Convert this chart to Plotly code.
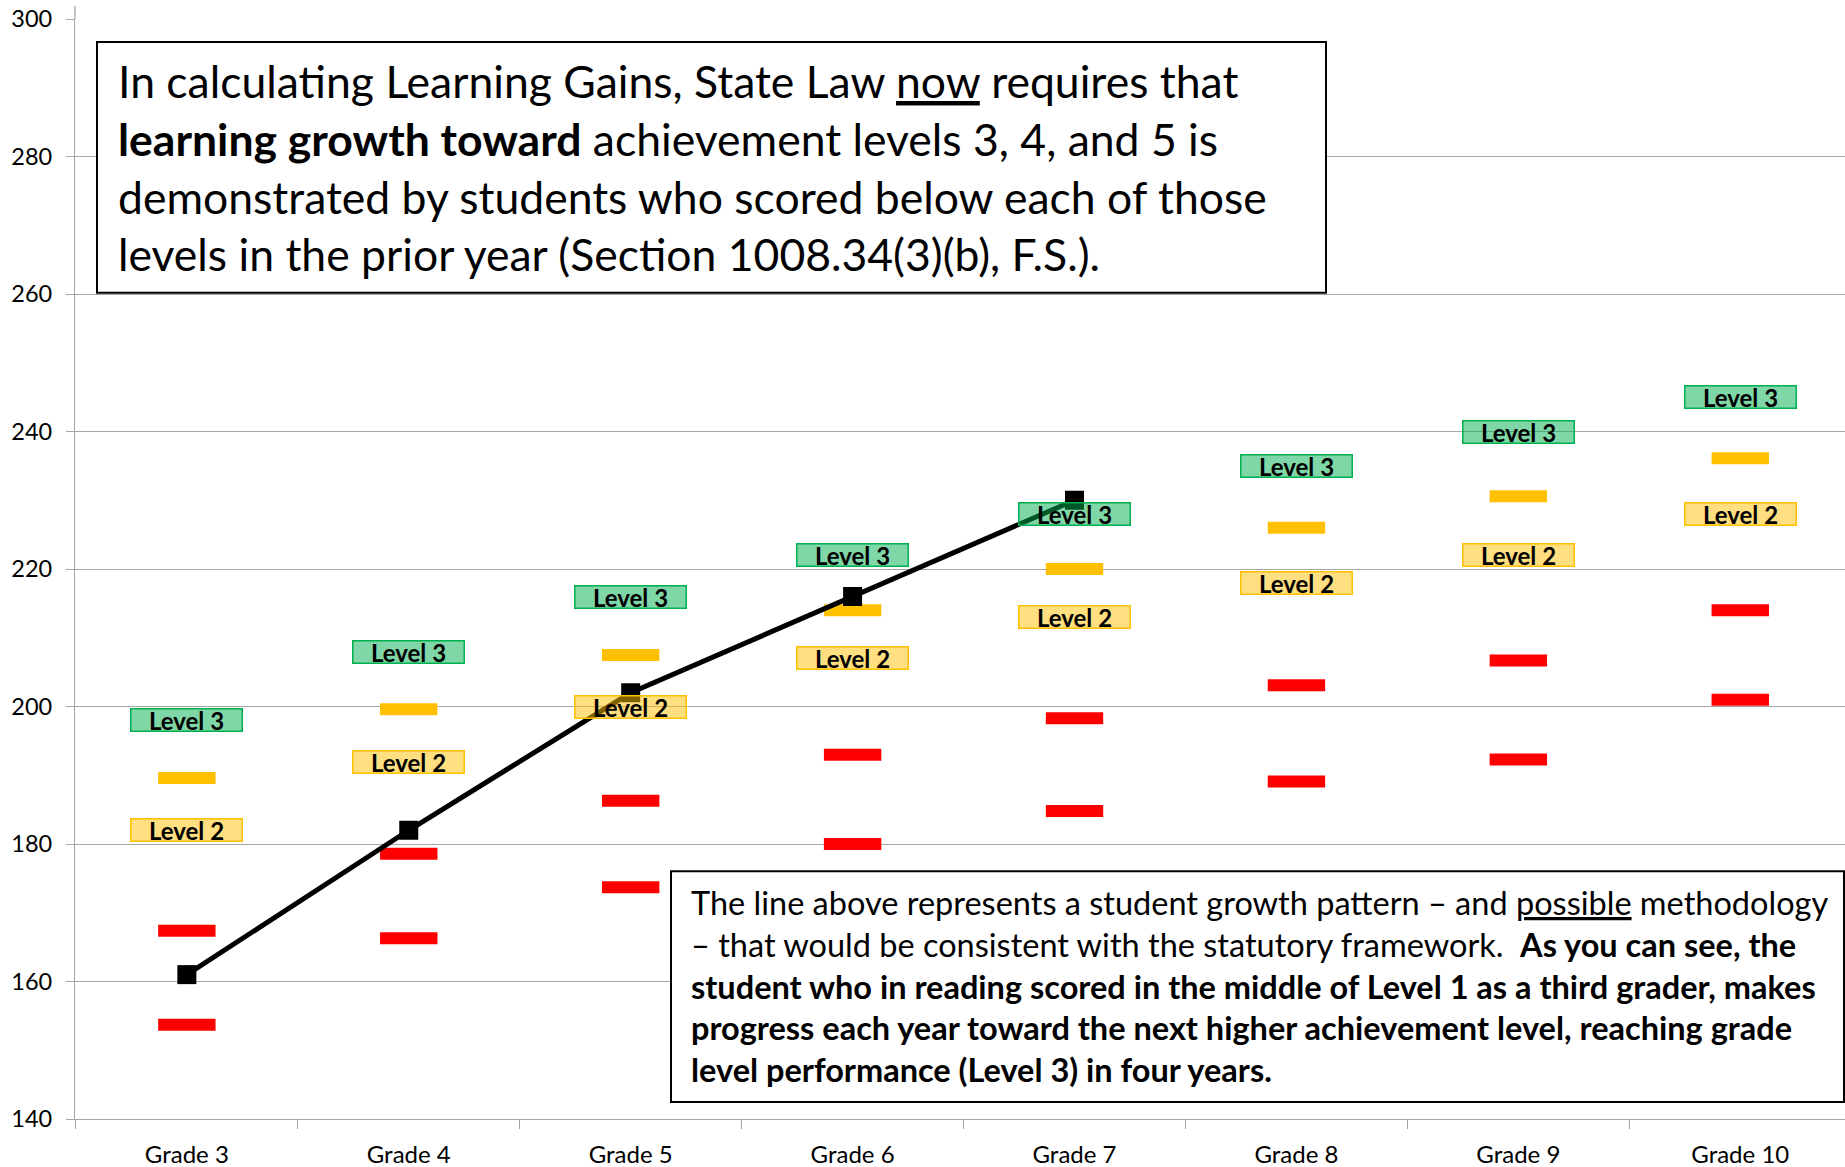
import plotly.graph_objects as go

# ---------------- data ----------------
grades = ["Grade 3", "Grade 4", "Grade 5", "Grade 6", "Grade 7", "Grade 8", "Grade 9", "Grade 10"]
level3_cut = [198, 208, 216, 222, 228, 235, 240, 245]
level2_upper = [189.6, 199.6, 207.5, 214, 220, 226, 230.6, 236.1]
level2_cut = [182, 192, 200, 207, 213, 218, 222, 228]
level1_upper = [167.4, 178.6, 186.3, 193, 198.3, 203.1, 206.7, 214]
level1_lower = [153.7, 166.3, 173.7, 180, 184.8, 189.1, 192.3, 201]
student_grades = ["Grade 3", "Grade 4", "Grade 5", "Grade 6", "Grade 7"]
student_scores = [161, 182, 202, 216, 230]
y_ticks = [140, 160, 180, 200, 220, 240, 260, 280, 300]

FONT = "Lato"
GRID = "#A6A6A6"

fig = go.Figure()

def dash_trace(vals, color):
    return go.Scatter(
        x=grades, y=vals, mode="markers", showlegend=False, hoverinfo="skip",
        marker=dict(symbol="line-ew", size=41, color=color,
                    line=dict(color=color, width=12)),
    )

fig.add_trace(dash_trace(level2_upper, "#FFC000"))
fig.add_trace(dash_trace(level1_upper, "#FF0000"))
fig.add_trace(dash_trace(level1_lower, "#FF0000"))

fig.add_trace(go.Scatter(
    x=student_grades, y=student_scores, mode="lines+markers", showlegend=False,
    line=dict(color="black", width=5),
    marker=dict(symbol="square", size=19, color="black", line=dict(width=0)),
))

annotations = []
for g, v in zip(grades, level3_cut):
    annotations.append(dict(
        x=g, y=v, xref="x", yref="y", text="<b>Level 3</b>", showarrow=False,
        font=dict(family=FONT, size=24, color="black"),
        bgcolor="rgba(0,176,80,0.5)", bordercolor="#00B050", borderwidth=1.5,
        borderpad=0, width=110, height=21, xanchor="center", yanchor="middle",
    ))
for g, v in zip(grades, level2_cut):
    annotations.append(dict(
        x=g, y=v, xref="x", yref="y", text="<b>Level 2</b>", showarrow=False,
        font=dict(family=FONT, size=24, color="black"),
        bgcolor="rgba(255,192,0,0.5)", bordercolor="#FFC000", borderwidth=1.5,
        borderpad=0, width=110, height=21, xanchor="center", yanchor="middle",
    ))

# pixel -> paper helpers (plot area: x 75..1845, y 19..1120)
PX0, PW = 75, 1770
PY1, PH = 1120, 1101

def px(x):
    return (x - PX0) / PW

def py(y):
    return (PY1 - y) / PH

shapes = [
    dict(type="rect", xref="paper", yref="paper", x0=px(97), x1=px(1326), y0=py(293), y1=py(42),
         fillcolor="white", line=dict(color="black", width=2), layer="above"),
    dict(type="rect", xref="paper", yref="paper", x0=px(671), x1=px(1844), y0=py(1103), y1=py(872),
         fillcolor="white", line=dict(color="black", width=2), layer="above"),
    dict(type="line", xref="paper", yref="paper", x0=0, x1=0, y0=1, y1=py(6),
         line=dict(color=GRID, width=1.3), layer="below"),
]

top_lines = [
    "In calculating Learning Gains, State Law <u>now</u> requires that",
    "<b>learning growth toward</b> achievement levels 3, 4, and 5 is",
    "demonstrated by students who scored below each of those",
    "levels in the prior year (Section 1008.34(3)(b), F.S.).",
]
top_y = [81, 139, 196.5, 254]
for t, yy in zip(top_lines, top_y):
    annotations.append(dict(
        x=px(116), y=py(yy), xref="paper", yref="paper", text=t, showarrow=False,
        xanchor="left", yanchor="middle", font=dict(family=FONT, size=44.5, color="black"),
    ))

bottom_lines = [
    "The line above represents a student growth pattern – and <u>possible</u> methodology",
    "– that would be consistent with the statutory framework.&nbsp; <b>As you can see, the</b>",
    "<b>student who in reading scored in the middle of Level 1 as a third grader, makes</b>",
    "<b>progress each year toward the next higher achievement level, reaching grade</b>",
    "<b>level performance (Level 3) in four years.</b>",
]
bottom_y = [903.5, 945, 987, 1028.5, 1070]
for t, yy in zip(bottom_lines, bottom_y):
    annotations.append(dict(
        x=px(689), y=py(yy), xref="paper", yref="paper", text=t, showarrow=False,
        xanchor="left", yanchor="middle", font=dict(family=FONT, size=32.5, color="black"),
    ))

fig.update_layout(
    width=1845, height=1167, autosize=False,
    margin=dict(l=75, r=0, t=19, b=48, pad=0),
    paper_bgcolor="white", plot_bgcolor="white",
    showlegend=False,
    annotations=annotations, shapes=shapes,
    xaxis=dict(
        type="category", categoryorder="array", categoryarray=grades,
        range=[-0.504, 7.472], showgrid=False, showline=True, linecolor=GRID, linewidth=1.3,
        tickson="boundaries", ticks="outside", ticklen=9, tickcolor=GRID, tickwidth=1.3,
        tickfont=dict(family=FONT, size=24, color="black"), ticklabelstandoff=14,
        zeroline=False, fixedrange=True,
    ),
    yaxis=dict(
        range=[140, 300], tickmode="array", tickvals=y_ticks,
        showgrid=True, gridcolor=GRID, gridwidth=1.3,
        showline=True, linecolor=GRID, linewidth=1.3,
        ticks="outside", ticklen=8, tickcolor=GRID, tickwidth=1.3,
        tickfont=dict(family=FONT, size=23.5, color="black"), ticklabelstandoff=9,
        zeroline=False, fixedrange=True,
    ),
)

fig.write_html("out.html", config={"displayModeBar": False},
               post_script="document.body.style.margin='0';document.body.style.overflow='hidden';")
